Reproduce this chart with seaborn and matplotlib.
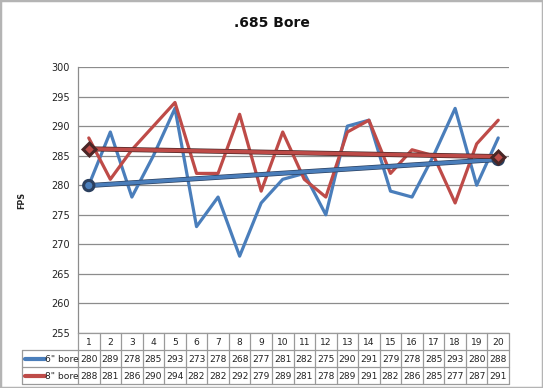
import numpy as np
import pandas as pd
import matplotlib
matplotlib.use("Agg")
import matplotlib.pyplot as plt
import matplotlib.patheffects as pe
from matplotlib.patches import Rectangle
import seaborn as sns

shots = list(range(1, 21))
bore6 = [280, 289, 278, 285, 293, 273, 278, 268, 277, 281, 282, 275, 290, 291, 279, 278, 285, 293, 280, 288]
bore8 = [288, 281, 286, 290, 294, 282, 282, 292, 279, 289, 281, 278, 289, 291, 282, 286, 285, 277, 287, 291]
series_names = ['6" bore', '8" bore']
title = ".685 Bore"
ylabel = "FPS"

sns.set_theme(style="white")
plt.rcParams['font.family'] = ['DejaVu Sans']

blue = "#4a7ebb"
red = "#be4b48"

W, H = 543, 388
fig = plt.figure(figsize=(W / 100, H / 100), dpi=100)

def fx(px):
    return px / W

def fy(py):
    return 1 - py / H

L, R, T, B = 78, 509, 67, 333
ax = fig.add_axes([fx(L), fy(B), fx(R - L), (B - T) / H])

df = pd.DataFrame({
    "shot": shots * 2,
    "fps": bore6 + bore8,
    "series": [series_names[0]] * len(shots) + [series_names[1]] * len(shots),
})
sns.lineplot(data=df, x="shot", y="fps", hue="series", palette=[blue, red],
             linewidth=2.3, ax=ax, legend=False, zorder=3)

# linear trendlines (Excel-style)
x = np.array(shots, dtype=float)
for vals, col, mk, edge in [(bore6, blue, "o", "#2a3f5e"), (bore8, red, "D", "#4a2626")]:
    k, b = np.polyfit(x, np.array(vals, dtype=float), 1)
    xe = np.array([x[0], x[-1]])
    ye = k * xe + b
    ax.plot(xe, ye, color=col, lw=2.6, zorder=5, solid_capstyle="round",
            marker=mk, markersize=6 if mk == "o" else 5, markerfacecolor=col,
            markeredgecolor=edge, markeredgewidth=0.8,
            path_effects=[pe.Stroke(linewidth=3.6, foreground=edge), pe.Normal()])

ax.set_xlim(0.5, 20.5)
ax.set_ylim(255, 300)
ax.set_yticks(np.arange(255, 301, 5))
ax.yaxis.grid(True, color="#8c8c8c", lw=0.9)
ax.set_xticks([])
ax.set_xlabel("")
ax.set_ylabel("")
ax.tick_params(axis="y", labelsize=7, length=0, pad=6, colors="#222222")
for s in ["top", "right", "bottom"]:
    ax.spines[s].set_visible(False)
ax.spines["left"].set_color("#8c8c8c")
ax.spines["left"].set_linewidth(0.9)

fig.text(fx(272), fy(23), title, ha="center", va="center", fontsize=10, fontweight="bold", color="#111111")
fig.text(fx(22), fy(200), ylabel, ha="center", va="center", rotation=90, fontsize=5.8, fontweight="bold")

# data table
TL, TB = 22, 384
tax = fig.add_axes([fx(TL), fy(TB), fx(R - TL), (TB - B) / H])
colw = (R - L) / 20.0
lab_w = (L - TL) / colw
tax.set_xlim(0.5 - lab_w, 20.5)
tax.set_ylim(3, 0)
tax.axis("off")
gc = "#9a9a9a"
glw = 0.9
tax.plot([0.5, 20.5], [0, 0], color=gc, lw=glw, clip_on=False)
for yy in [1, 2, 3]:
    tax.plot([0.5 - lab_w, 20.5], [yy, yy], color=gc, lw=glw, clip_on=False)
tax.plot([0.5 - lab_w, 0.5 - lab_w], [1, 3], color=gc, lw=glw, clip_on=False)
for i in range(21):
    xv = 0.5 + i
    tax.plot([xv, xv], [0, 3], color=gc, lw=glw, clip_on=False)
fs = 6.6
for i, s in enumerate(shots):
    tax.text(s, 0.55, str(s), ha="center", va="center", fontsize=fs, color="#222222")
    tax.text(s, 1.55, str(bore6[i]), ha="center", va="center", fontsize=fs, color="#222222")
    tax.text(s, 2.55, str(bore8[i]), ha="center", va="center", fontsize=fs, color="#222222")
for r, (name, col) in enumerate(zip(series_names, [blue, red])):
    yy = 1.5 + r
    x0 = 0.5 - lab_w + 0.12
    tax.plot([x0, x0 + 0.95], [yy, yy], color=col, lw=3, solid_capstyle="round", clip_on=False)
    tax.text(x0 + 0.97, yy + 0.05, name, ha="left", va="center", fontsize=fs, color="#222222")

fig.patches.append(Rectangle((0, 0), 1, 1, transform=fig.transFigure, fill=False,
                             edgecolor="#b4b4b4", lw=2.5, zorder=10))

fig.savefig("out.png", dpi=100)
